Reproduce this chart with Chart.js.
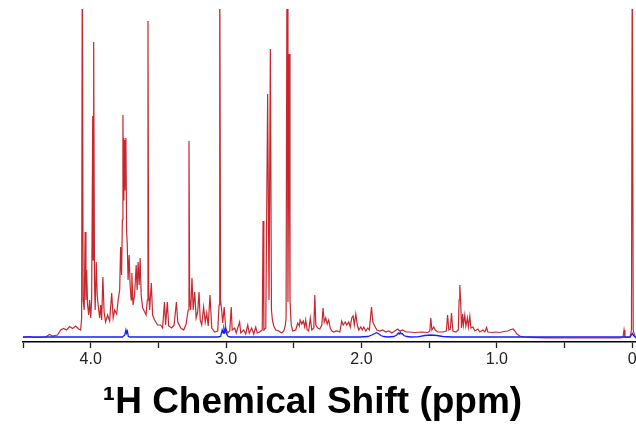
<!DOCTYPE html>
<html>
<head>
<meta charset="utf-8">
<script src="https://cdn.jsdelivr.net/npm/chart.js@4/dist/chart.umd.min.js"></script>
<style>
  html, body { margin: 0; padding: 0; background: #fff; overflow: hidden; width: 636px; height: 429px; }
  #c { display: block; margin-left: -20px; }
</style>
</head>
<body>
<canvas id="c" width="665" height="429"></canvas>
<script>
// Red spectrum: chemical shift (ppm) and intensity (arbitrary units)
const redShift = [
  4.503, 4.452, 4.422, 4.333, 4.304, 4.282, 4.245, 4.222, 4.200, 4.178,
  4.156, 4.134, 4.111, 4.089, 4.074, 4.067, 4.062, 4.056, 4.048, 4.041,
  4.035, 4.030, 4.023, 4.015, 4.008, 4.000, 3.993, 3.985, 3.982, 3.978,
  3.972, 3.967, 3.959, 3.952, 3.945, 3.934, 3.926, 3.919, 3.910, 3.901,
  3.890, 3.875, 3.860, 3.845, 3.834, 3.823, 3.808, 3.797, 3.786, 3.779,
  3.772, 3.766, 3.762, 3.758, 3.755, 3.751, 3.747, 3.744, 3.740, 3.735,
  3.730, 3.724, 3.716, 3.709, 3.701, 3.696, 3.687, 3.676, 3.664, 3.657,
  3.650, 3.642, 3.635, 3.627, 3.616, 3.601, 3.591, 3.582, 3.577, 3.572,
  3.565, 3.552, 3.543, 3.528, 3.506, 3.484, 3.469, 3.455, 3.447, 3.434,
  3.424, 3.402, 3.384, 3.367, 3.357, 3.335, 3.313, 3.295, 3.280, 3.274,
  3.269, 3.261, 3.252, 3.243, 3.232, 3.221, 3.210, 3.200, 3.191, 3.180,
  3.166, 3.154, 3.143, 3.132, 3.119, 3.106, 3.084, 3.062, 3.052, 3.047,
  3.041, 3.033, 3.025, 3.014, 3.003, 2.988, 2.973, 2.962, 2.955, 2.936,
  2.925, 2.900, 2.892, 2.870, 2.855, 2.840, 2.829, 2.811, 2.796, 2.781,
  2.770, 2.752, 2.733, 2.727, 2.721, 2.707, 2.693, 2.683, 2.673, 2.665,
  2.658, 2.648, 2.633, 2.611, 2.589, 2.574, 2.563, 2.557, 2.550, 2.543,
  2.535, 2.528, 2.519, 2.508, 2.486, 2.471, 2.459, 2.453, 2.441, 2.430,
  2.419, 2.412, 2.401, 2.390, 2.378, 2.367, 2.352, 2.345, 2.337, 2.323,
  2.308, 2.293, 2.284, 2.275, 2.264, 2.253, 2.242, 2.231, 2.219, 2.205,
  2.182, 2.160, 2.146, 2.135, 2.120, 2.109, 2.094, 2.083, 2.072, 2.062,
  2.053, 2.042, 2.031, 2.020, 2.005, 1.994, 1.983, 1.968, 1.953, 1.942,
  1.926, 1.916, 1.902, 1.887, 1.865, 1.843, 1.821, 1.798, 1.776, 1.754,
  1.732, 1.717, 1.695, 1.673, 1.650, 1.606, 1.554, 1.510, 1.495, 1.488,
  1.480, 1.466, 1.455, 1.436, 1.399, 1.373, 1.364, 1.355, 1.344, 1.335,
  1.325, 1.303, 1.285, 1.279, 1.274, 1.268, 1.261, 1.253, 1.247, 1.237,
  1.229, 1.218, 1.211, 1.200, 1.192, 1.177, 1.163, 1.140, 1.126, 1.103,
  1.089, 1.076, 1.067, 1.037, 1.007, 0.978, 0.948, 0.919, 0.897, 0.880,
  0.867, 0.852, 0.830, 0.800, 0.756, 0.645, 0.534, 0.386, 0.239, 0.091,
  0.069, 0.061, 0.054, 0.017, 0.006, 0.000, -0.007, -0.014, -0.027, -0.094
];
const redIntensity = [
  4.5, 5.5, 4.5, 5, 7.5, 6, 7, 12, 13.5, 12,
  15.5, 13.5, 16, 13, 12, 24, 400, 42, 32, 110,
  42, 72, 37, 27, 42, 24, 42, 226, 82, 300,
  62, 32, 80, 47, 37, 24, 37, 22, 65, 30,
  20, 27, 21, 49, 24, 32, 28, 42, 52, 95,
  67, 122, 227, 142, 204, 152, 202, 157, 204, 112,
  97, 62, 87, 57, 42, 69, 37, 47, 77, 52,
  80, 57, 84, 47, 34, 30, 27, 42, 321, 52,
  32, 59, 27, 22, 17, 17, 14, 40, 17, 40,
  16, 14, 17, 40, 20, 14, 12, 18, 32, 201,
  42, 32, 64, 32, 50, 24, 30, 50, 22, 17,
  35, 20, 29, 16, 47, 14, 10, 11, 37, 400,
  42, 32, 19, 35, 14, 9, 11, 35, 12, 14,
  9, 20, 9, 12, 8, 17, 9, 14, 8, 15,
  9, 10, 12, 121, 12, 14, 248, 42, 293, 32,
  22, 16, 12, 11, 9, 11, 16, 24, 400, 40,
  288, 42, 17, 11, 12, 19, 16, 22, 18, 21,
  15, 22, 12, 11, 24, 12, 14, 47, 17, 14,
  13, 17, 34, 20, 24, 18, 22, 14, 11, 10,
  11, 10, 21, 17, 20, 17, 20, 15, 24, 26,
  17, 28, 17, 12, 15, 12, 15, 11, 14, 12,
  35, 20, 16, 12, 11, 12, 10, 11, 9, 11,
  13, 11, 12, 10, 10, 9.5, 10, 9.5, 11, 24,
  12, 15, 12, 10, 10, 11, 27, 12, 13, 29,
  11, 10, 12, 42, 57, 42, 14, 28, 17, 27,
  16, 24, 15, 26, 14, 15, 11, 13, 10, 12,
  10, 14.5, 10, 9.5, 10, 9.5, 10.5, 11, 12.5, 13,
  11, 8, 6, 5, 4.7, 4.2, 4, 4, 4, 4,
  4.5, 12, 4.5, 4.5, 12, 400, 12, 8, 4, 4
];

// Blue spectrum
const blueShift = [
  4.503, 3.852, 3.766, 3.748, 3.740, 3.735, 3.729, 3.722, 3.711, 3.062,
  3.040, 3.029, 3.021, 3.016, 3.009, 3.003, 2.996, 2.985, 2.966, 2.013,
  1.953, 1.924, 1.901, 1.889, 1.876, 1.857, 1.835, 1.806, 1.761, 1.739,
  1.728, 1.721, 1.713, 1.706, 1.698, 1.687, 1.665, 1.635, 1.584, 1.532,
  1.488, 1.443, 1.399, 1.333, 0.091, 0.017, 0.006, 0.000, -0.007, -0.020,
  -0.094
];
const blueIntensity = [
  5, 5, 5, 7, 12, 9, 11, 5.5, 5, 5,
  5.5, 12, 9, 13.7, 10, 13, 8, 5.5, 5, 5,
  5.5, 7, 8.5, 9.3, 8.5, 6.5, 5.5, 5, 5.5, 7,
  9, 8, 9.7, 8, 8.5, 6.5, 5.5, 5, 5.2, 6.5,
  7, 6.5, 5.5, 5, 5, 5.2, 7, 8.7, 7, 5.2,
  5
];

// Axis ticks
const tickValues = [4.5, 4.0, 3.5, 3.0, 2.5, 2.0, 1.5, 1.0, 0.5, 0.0];
const tickLabels = ['', '4.0', '', '3.0', '', '2.0', '', '1.0', '', '0'];
const axisTitle = '\u00B9H Chemical Shift (ppm)';

const toPoints = (xs, ys) => xs.map((x, i) => ({ x: x, y: ys[i] }));

new Chart(document.getElementById('c'), {
  type: 'line',
  data: {
    datasets: [
      {
        label: 'blue',
        data: toPoints(blueShift, blueIntensity),
        borderColor: 'rgb(20,30,255)',
        borderWidth: 1.3,
        pointRadius: 0,
        tension: 0,
        fill: false
      },
      {
        label: 'red',
        data: toPoints(redShift, redIntensity),
        borderColor: 'rgb(198,40,48)',
        borderWidth: 1.2,
        pointRadius: 0,
        tension: 0,
        fill: false
      }
    ]
  },
  options: {
    responsive: false,
    animation: false,
    devicePixelRatio: 1,
    layout: { padding: { top: 9, left: 0, right: 0, bottom: 0 } },
    plugins: {
      legend: { display: false },
      tooltip: { enabled: false },
      title: {
        display: true,
        position: 'bottom',
        fullSize: true,
        text: axisTitle,
        color: '#000',
        font: { family: "'Liberation Sans', Arial, sans-serif", size: 37, weight: 'bold' },
        padding: { top: 0, bottom: 4 }
      }
    },
    scales: {
      x: {
        type: 'linear',
        reverse: true,
        min: -0.094,
        max: 4.5,
        border: { display: true, color: '#000', width: 1.6 },
        grid: { display: true, drawOnChartArea: false, drawTicks: true, tickLength: 6, tickColor: '#222', tickWidth: 1.3 },
        afterBuildTicks: (s) => { s.ticks = tickValues.map(v => ({ value: v })); },
        afterFit: (s) => { s.height = 38.6; },
        ticks: {
          autoSkip: false,
          maxRotation: 0,
          padding: 2,
          color: '#222',
          font: { family: "'Liberation Sans', Arial, sans-serif", size: 16 },
          callback: (v, i) => tickLabels[i]
        }
      },
      y: {
        type: 'linear',
        min: 0,
        max: 333,
        display: true,
        grid: { display: false },
        border: { display: false },
        ticks: { display: false },
        afterFit: (s) => { s.width = 43; }
      }
    }
  }
});
</script>
</body>
</html>
